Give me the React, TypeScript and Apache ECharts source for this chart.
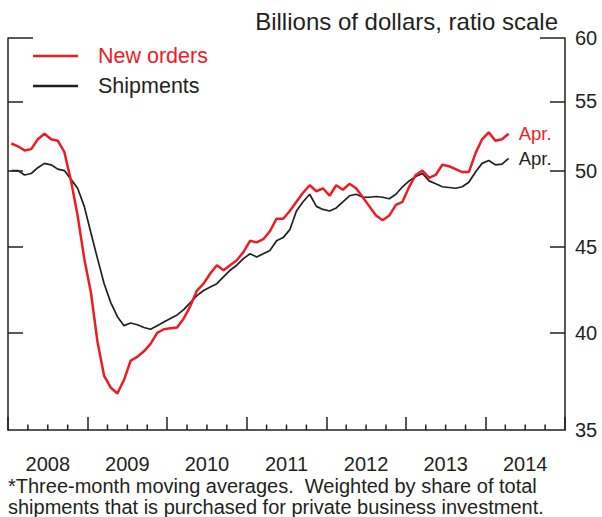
import React, { useEffect, useRef } from "react";
import * as echarts from "echarts";

// Monthly, Jan 2008 – Apr 2014 (three-month moving averages, billions of dollars)
const startYear = 2008;
const newOrders = [
  51.9, 51.7, 51.4, 51.5, 52.2, 52.6, 52.2, 52.1, 51.3, 49.3, 47.0, 44.3,
  42.3, 39.5, 37.7, 37.1, 36.8, 37.5, 38.5, 38.7, 39.0, 39.4, 40.0, 40.2,
  40.25, 40.3, 40.8, 41.5, 42.4, 42.8, 43.4, 43.9, 43.6, 43.9, 44.2, 44.7,
  45.4, 45.3, 45.5, 46.0, 46.8, 46.8, 47.3, 47.9, 48.5, 49.0, 48.6, 48.8,
  48.3, 49.0, 48.7, 49.1, 48.8, 48.2, 47.6, 47.0, 46.7, 47.0, 47.7, 47.9,
  48.9, 49.7, 50.0, 49.5, 49.7, 50.4, 50.3, 50.1, 49.9, 49.9, 51.2, 52.2,
  52.7, 52.1, 52.2, 52.6,
];
const shipments = [
  50.0, 50.0, 49.7, 49.8, 50.2, 50.5, 50.4, 50.1, 50.0, 49.4, 48.8, 47.6,
  45.9, 44.3, 42.8, 41.7, 40.9, 40.4, 40.55, 40.45, 40.3, 40.2, 40.4, 40.6,
  40.8, 41.0, 41.3, 41.7, 42.1, 42.4, 42.6, 42.8, 43.2, 43.6, 43.9, 44.3,
  44.6, 44.4, 44.6, 44.8, 45.4, 45.6, 46.1, 47.3, 47.9, 48.4, 47.6, 47.4,
  47.3, 47.5, 47.9, 48.3, 48.4, 48.2, 48.2, 48.25, 48.2, 48.1, 48.4, 48.9,
  49.3, 49.6, 49.8, 49.3, 49.1, 48.9, 48.85, 48.8, 48.9, 49.2, 49.9, 50.5,
  50.7, 50.4, 50.45, 50.85,
];
const yearLabels = ["2008", "2009", "2010", "2011", "2012", "2013", "2014"];
const yTickValues = [35, 40, 45, 50, 55, 60];
const yMin = 35;
const yMax = 60;
const endLabelText = "Apr.";
const titleText = "Billions of dollars, ratio scale";
const footnote =
  "*Three-month moving averages.  Weighted by share of total\nshipments that is purchased for private business investment.";

const RED = "#ed1c24";
const INK = "#231f20";
const FONT = "'Liberation Sans', Arial, Helvetica, sans-serif";

export default function App() {
  const ref = useRef<HTMLDivElement>(null);

  useEffect(() => {
    document.body.style.margin = "0";
    const chart = echarts.init(ref.current!, null, { renderer: "svg" });
    const ln = (v: number) => Math.log(v);
    const toSeries = (arr: number[]) => arr.map((v, i) => [i + 0.5, ln(v)]);
    const months = yearLabels.length * 12;
    const labelPos = yearLabels.map((_, k) => k * 12 + 6);
    const yearTicks = Array.from({ length: yearLabels.length + 1 }, (_, k) => k * 12);
    const quarterTicks = Array.from({ length: months / 3 + 1 }, (_, k) => k * 3).filter(
      (m) => m % 12 !== 0
    );
    const innerTicks = yTickValues.filter((v) => v !== yMin && v !== yMax).map(ln);
    const labelTicks = yTickValues.map(ln);

    const baseY = {
      type: "value",
      min: ln(yMin),
      max: ln(yMax),
      splitLine: { show: false },
    };
    const tickStyle = { color: INK, width: 1.5 };

    chart.setOption({
      animation: false,
      textStyle: { fontFamily: FONT },
      title: {
        text: titleText,
        right: 44,
        top: 9,
        padding: 0,
        textStyle: { fontSize: 24, fontWeight: "normal", color: INK, fontFamily: FONT },
      },
      legend: {
        orient: "vertical",
        left: 33,
        top: 45,
        padding: 0,
        itemWidth: 45,
        itemHeight: 2.5,
        itemGap: 8,
        icon: "rect",
        textStyle: { fontSize: 21.5, lineHeight: 21, fontFamily: FONT, padding: [0, 0, 0, 15] },
        data: [
          { name: "New orders", textStyle: { color: RED } },
          { name: "Shipments", textStyle: { color: INK } },
        ],
      },
      grid: { left: 8, right: 37, top: 38, bottom: 87, containLabel: false },
      xAxis: [
        {
          type: "value",
          min: 0,
          max: months,
          interval: 12,
          splitLine: { show: false },
          axisLine: { show: true, onZero: false, lineStyle: tickStyle },
          axisTick: { show: true, inside: true, length: 13, customValues: yearTicks, lineStyle: tickStyle },
          axisLabel: {
            customValues: labelPos,
            formatter: (v: number) => yearLabels[Math.floor(v / 12)],
            fontSize: 20,
            margin: 24,
            color: INK,
            fontFamily: FONT,
          },
        },
      ],
      yAxis: [
        {
          ...baseY,
          position: "right",
          axisLine: { show: true, onZero: false, lineStyle: tickStyle },
          axisTick: { show: true, inside: true, length: 15, customValues: innerTicks, lineStyle: tickStyle },
          axisLabel: {
            customValues: labelTicks,
            formatter: (v: number) => String(Math.round(Math.exp(v))),
            fontSize: 20,
            margin: 10,
            color: INK,
            fontFamily: FONT,
          },
        },
        {
          ...baseY,
          position: "left",
          axisLine: { show: true, onZero: false, lineStyle: tickStyle },
          axisTick: { show: true, inside: true, length: 15, customValues: innerTicks, lineStyle: tickStyle },
          axisLabel: { show: false },
        },
        {
          ...baseY,
          position: "right",
          axisLine: { show: false, onZero: false },
          axisTick: { show: true, inside: true, length: 25, customValues: [ln(yMax)], lineStyle: tickStyle },
          axisLabel: { show: false },
        },
        {
          ...baseY,
          position: "left",
          axisLine: { show: false, onZero: false },
          axisTick: { show: true, inside: true, length: 25, customValues: [ln(yMax)], lineStyle: tickStyle },
          axisLabel: { show: false },
        },
      ],
      series: [
        {
          // quarterly minor ticks on the time axis
          name: "quarter ticks",
          type: "custom",
          xAxisIndex: 0,
          yAxisIndex: 0,
          silent: true,
          clip: false,
          data: quarterTicks.map((m) => [m, ln(yMin)]),
          renderItem: (params: any, api: any) => {
            const p = api.coord([api.value(0), api.value(1)]);
            return {
              type: "line",
              shape: { x1: p[0], y1: p[1], x2: p[0], y2: p[1] - 5.5 },
              style: { stroke: INK, lineWidth: 1.5 },
            };
          },
        },
        {
          name: "Shipments",
          type: "line",
          xAxisIndex: 0,
          yAxisIndex: 0,
          data: toSeries(shipments),
          showSymbol: false,
          symbol: "none",
          color: INK,
          lineStyle: { color: INK, width: 1.7 },
          endLabel: {
            show: true,
            formatter: endLabelText,
            color: INK,
            fontSize: 18.5,
            distance: 10,
            fontFamily: FONT,
          },
        },
        {
          name: "New orders",
          type: "line",
          xAxisIndex: 0,
          yAxisIndex: 0,
          data: toSeries(newOrders),
          showSymbol: false,
          symbol: "none",
          color: RED,
          lineStyle: { color: RED, width: 2.5 },
          endLabel: {
            show: true,
            formatter: endLabelText,
            color: RED,
            fontSize: 18.5,
            distance: 10,
            fontFamily: FONT,
          },
        },
      ],
      graphic: [
        {
          type: "text",
          left: 8,
          top: 475,
          style: {
            text: footnote,
            font: `20px ${FONT}`,
            fill: INK,
            lineHeight: 21,
          },
        },
      ],
    });
    return () => chart.dispose();
  }, []);

  return (
    <div
      ref={ref}
      style={{ width: 602, height: 517, position: "fixed", left: 0, top: 0, background: "#fff" }}
    />
  );
}
